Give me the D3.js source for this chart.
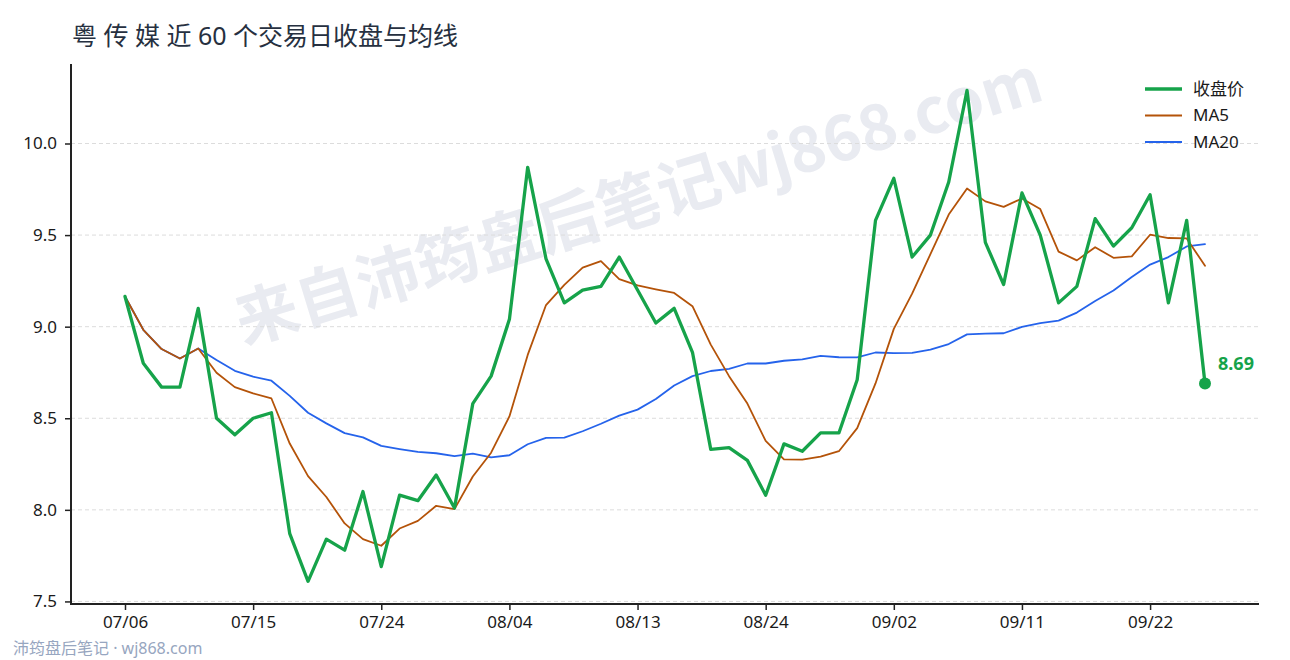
<!DOCTYPE html>
<html><head><meta charset="utf-8">
<script src="https://cdn.jsdelivr.net/npm/d3@7"></script>
<style>
html,body{margin:0;padding:0;background:#fff;}
svg{display:block;font-family:"Noto Sans","Noto Sans CJK SC",sans-serif;}
</style></head>
<body><svg id="c" width="1290" height="660"></svg>
<script>
const title = "粤 传 媒 近 60 个交易日收盘与均线";
const dates = ["07/06","07/07","07/08","07/09","07/10","07/13","07/14","07/15","07/16","07/17",
"07/20","07/21","07/22","07/23","07/24","07/27","07/28","07/29","07/30","07/31",
"08/03","08/04","08/05","08/06","08/07","08/10","08/11","08/12","08/13","08/14",
"08/17","08/18","08/19","08/20","08/21","08/24","08/25","08/26","08/27","08/28",
"08/31","09/01","09/02","09/03","09/04","09/07","09/08","09/09","09/10","09/11",
"09/14","09/15","09/16","09/17","09/18","09/21","09/22","09/23","09/24","09/25"];
const close = [9.165,8.80,8.67,8.67,9.10,8.50,8.41,8.50,8.53,7.87,
7.61,7.84,7.78,8.10,7.69,8.08,8.05,8.19,8.01,8.58,
8.73,9.04,9.87,9.37,9.13,9.20,9.22,9.38,9.20,9.02,
9.10,8.86,8.33,8.34,8.27,8.08,8.36,8.32,8.42,8.42,
8.71,9.58,9.81,9.38,9.50,9.79,10.29,9.46,9.23,9.73,
9.50,9.13,9.22,9.59,9.44,9.54,9.72,9.13,9.58,8.69];
const ma5 = [9.165,8.983,8.878,8.826,8.881,8.748,8.670,8.636,8.608,8.362,
8.184,8.070,7.926,7.840,7.804,7.898,7.940,8.022,8.004,8.182,
8.312,8.510,8.846,9.118,9.228,9.322,9.358,9.260,9.226,9.204,
9.184,9.112,8.902,8.730,8.580,8.376,8.276,8.274,8.290,8.320,
8.446,8.690,8.988,9.180,9.396,9.612,9.754,9.684,9.654,9.700,
9.642,9.410,9.362,9.434,9.376,9.384,9.502,9.484,9.482,9.332];
const ma20 = [9.165,8.983,8.878,8.826,8.881,8.818,8.759,8.727,8.705,8.622,
8.530,8.472,8.419,8.396,8.349,8.332,8.316,8.309,8.293,8.307,
8.286,8.298,8.358,8.393,8.394,8.429,8.470,8.514,8.547,8.605,
8.679,8.730,8.758,8.770,8.799,8.799,8.814,8.821,8.841,8.833,
8.832,8.859,8.856,8.857,8.875,8.905,8.958,8.962,8.964,8.999,
9.019,9.033,9.077,9.140,9.198,9.271,9.339,9.380,9.438,9.451];
const yTicks = [7.5,8.0,8.5,9.0,9.5,10.0];
const xTickIdx = [0,7,14,21,28,35,42,49,56];
const seriesNames = ["收盘价","MA5","MA20"];
const seriesColors = ["#16a34a","#b45309","#2563eb"];
const footer = "沛筠盘后笔记 · wj868.com";
const watermark = "来自沛筠盘后笔记wj868.com";

const FONT = '"Noto Sans","Noto Sans CJK SC",sans-serif';
const svg = d3.select("#c");
const L=71,R=1259,T=64,B=604;
const x = d3.scaleLinear().domain([-2.95, close.length-1+2.95]).range([L,R]);
const y = d3.scaleLinear().domain([7.486,10.434]).range([B,T]);

// watermark
svg.append("text").attr("x",645).attr("y",222)
  .attr("transform","rotate(-17,645,222)")
  .attr("text-anchor","middle").attr("font-size",63).attr("font-weight",700)
  .attr("font-family",'"Noto Sans CJK SC","Noto Sans",sans-serif')
  .attr("fill","#e9ebf1").text(watermark);

// grid
svg.append("g").selectAll("line").data(yTicks).join("line")
  .attr("x1",L).attr("x2",R).attr("y1",d=>y(d)).attr("y2",d=>y(d))
  .attr("stroke","#dcdcdc").attr("stroke-width",1).attr("stroke-dasharray","4,3");

// axes
const ya = svg.append("g").attr("transform",`translate(${L},0)`)
  .call(d3.axisLeft(y).tickValues(yTicks).tickFormat(d3.format(".1f")).tickSize(6).tickPadding(8));
const xa = svg.append("g").attr("transform",`translate(0,${B})`)
  .call(d3.axisBottom(x).tickValues(xTickIdx).tickFormat(i=>dates[i]).tickSize(6).tickPadding(6));
[ya,xa].forEach(a=>{
  a.select(".domain").remove();
  a.selectAll(".tick line").attr("stroke","#222").attr("stroke-width",1.5);
  a.selectAll(".tick text").attr("fill","#1a1a1a").attr("font-size",17)
   .attr("font-family",FONT);
});
svg.append("line").attr("x1",L).attr("x2",L).attr("y1",T).attr("y2",B+1).attr("stroke","#222").attr("stroke-width",2);
svg.append("line").attr("x1",L-1).attr("x2",R).attr("y1",B).attr("y2",B).attr("stroke","#222").attr("stroke-width",2);

// lines
const line = d3.line().x((d,i)=>x(i)).y(d=>y(d));
const data = [close,ma5,ma20];
const widths = [3.3,1.8,1.8];
[2,1,0].forEach(k=>{
  svg.append("path").datum(data[k]).attr("d",line).attr("fill","none")
    .attr("stroke",seriesColors[k]).attr("stroke-width",widths[k])
    .attr("stroke-linejoin","round").attr("stroke-linecap","round");
});

// last point
const li = close.length-1;
svg.append("circle").attr("cx",x(li)).attr("cy",y(close[li])).attr("r",6).attr("fill",seriesColors[0]);
svg.append("text").attr("x",x(li)+13).attr("y",y(close[li])-13)
  .attr("font-size",18).attr("font-weight",700).attr("fill",seriesColors[0])
  .text(close[li].toFixed(2));

// legend
const lg = svg.append("g").attr("transform","translate(1145,89)");
seriesNames.forEach((n,k)=>{
  const g = lg.append("g").attr("transform",`translate(0,${k*26.5})`);
  g.append("line").attr("x1",0).attr("x2",37).attr("stroke",seriesColors[k]).attr("stroke-width",k==0?3.5:2);
  g.append("text").attr("x",48).attr("y",0).attr("dy","0.35em").attr("font-size",17).attr("fill","#1a1a1a").text(n);
});

// title
svg.append("text").attr("x",72).attr("y",45).attr("font-size",25).attr("fill","#263040").text(title);
// footer
svg.append("text").attr("x",13).attr("y",654).attr("font-size",16).attr("fill","#97a6c0").text(footer);
</script></body></html>
